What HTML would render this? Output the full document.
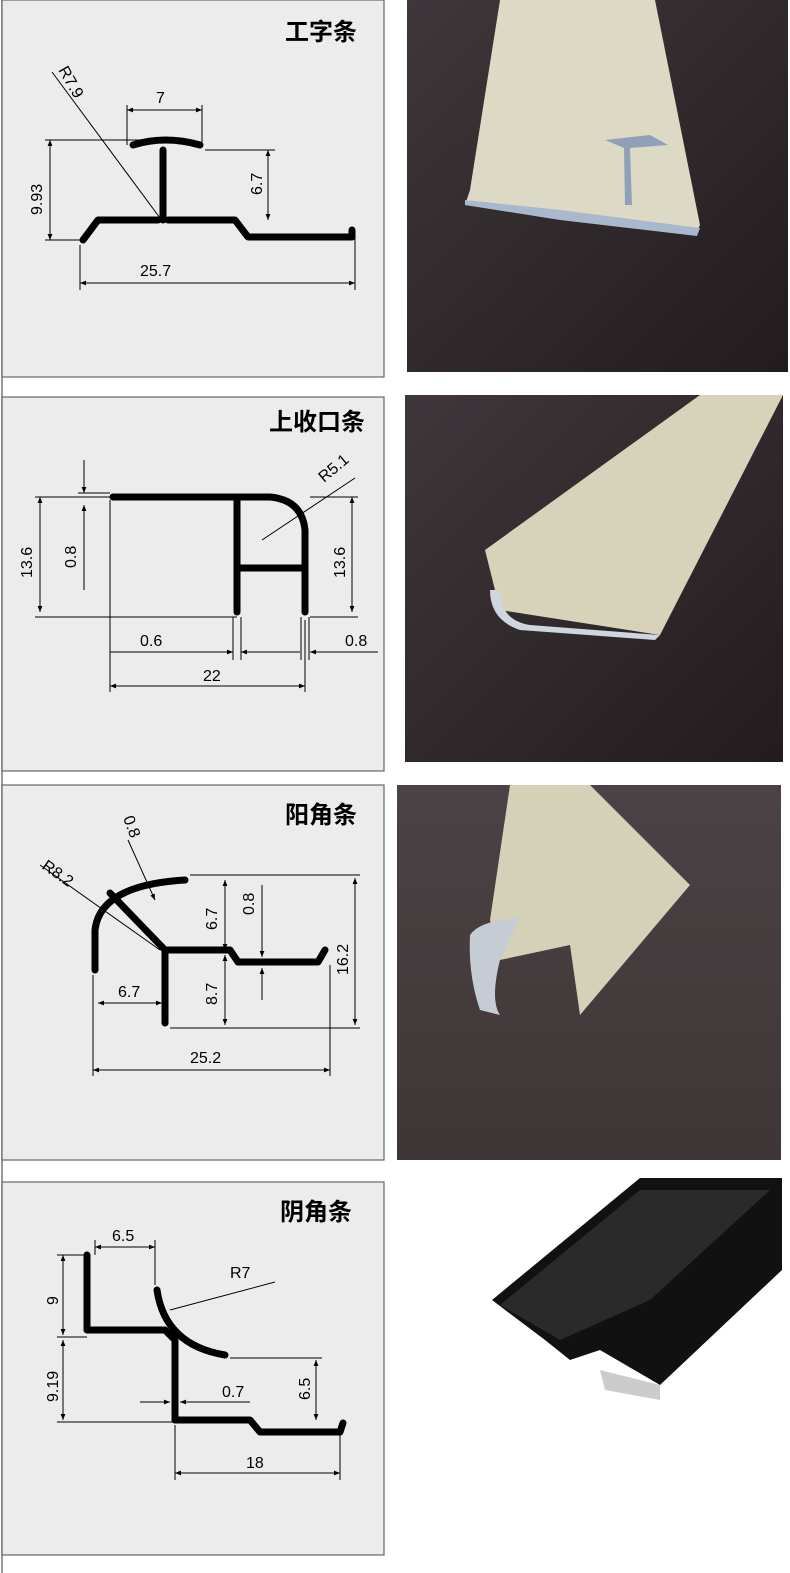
<!DOCTYPE html>
<html><head><meta charset="utf-8"><style>
html,body{margin:0;padding:0;background:#fff;}
svg{display:block}
text{font-family:"Liberation Sans","Noto Sans CJK SC",sans-serif;}
</style></head><body>
<svg width="790" height="1573" viewBox="0 0 790 1573" xmlns="http://www.w3.org/2000/svg">
<defs>
<linearGradient id="g1" x1="0" y1="0" x2="1" y2="1"><stop offset="0" stop-color="#3e373b"/><stop offset="0.6" stop-color="#2e2729"/><stop offset="1" stop-color="#221c1e"/></linearGradient>
<linearGradient id="g3" x1="0" y1="0" x2="0" y2="1"><stop offset="0" stop-color="#4a4244"/><stop offset="1" stop-color="#3e3636"/></linearGradient>
<marker id="a" viewBox="0 0 10 10" refX="10" refY="5" markerWidth="6" markerHeight="6" orient="auto-start-reverse"><path d="M0,1 L10,5 L0,9z" fill="#000"/></marker>
</defs>
<line x1="2" y1="0" x2="2" y2="1573" stroke="#777" stroke-width="1.5"/>
<g fill="#ececec" stroke="#666" stroke-width="1.2">
<rect x="2" y="0" width="382" height="377"/>
<rect x="2" y="397" width="382" height="374"/>
<rect x="2" y="785" width="382" height="375"/>
<rect x="2" y="1182" width="382" height="373"/>
</g>
<rect x="407" y="0" width="381" height="372" fill="url(#g1)"/>
<path d="M470 190 L500 0 L655 0 L700 225 L695 235 L465 205 Z" fill="#dcdac4"/>
<path d="M465 200 L560 210 L700 228 L697 236 L560 220 L465 205Z" fill="#a9b8cc"/>
<path d="M605 140 L650 135 L668 145 L630 148 L632 205 L625 205 L624 148 Z" fill="#8fa0b8"/>
<rect x="405" y="395" width="378" height="367" fill="url(#g1)"/>
<path d="M485 550 L700 395 L783 395 L660 635 L500 610Z" fill="#d6d3ba"/>
<path d="M500 590 Q500 620 530 625 L660 635 L655 640 L520 630 Q490 620 490 590Z" fill="#cfd6e0"/>
<rect x="397" y="785" width="384" height="375" fill="url(#g3)"/>
<path d="M490 920 L510 785 L590 785 L690 885 L580 1015 L570 945 L500 960Z" fill="#d4d1b8"/>
<path d="M470 935 Q480 920 520 918 L500 960 Q490 1000 500 1015 L480 1010 Q468 975 470 935Z" fill="#c6ccd3"/>
<path d="M492 1300 L640 1178 L782 1178 L782 1270 L660 1385 L600 1350 L570 1360 L545 1340 Z" fill="#111"/>
<path d="M500 1305 L640 1190 L770 1190 L650 1300 L560 1340Z" fill="#2a2a2a"/>
<path d="M600 1370 L660 1385 L660 1400 L605 1390Z" fill="#ccc"/>
<g font-weight="bold" font-size="24" fill="#000" text-anchor="end">
<text x="357" y="40">工字条</text>
<text x="365" y="430">上收口条</text>
<text x="357" y="823">阳角条</text>
<text x="352" y="1220">阴角条</text>
</g>
<g stroke="#000" stroke-width="7" fill="none" stroke-linecap="round" stroke-linejoin="round">
<path d="M83 240 L98 220 L158 220"/><path d="M168 220 L235 220 L248 237 L352 237 L352 230"/>
<path d="M163 150 L163 220"/><path d="M133 145 Q165 135 200 145"/>
<path d="M113 497 L270 497 Q302 500 305 530 L305 612"/><path d="M237 497 L237 612"/><path d="M237 568 L303 568"/>
<path d="M95 970 L95 930 Q100 885 185 880"/><path d="M165 950 L165 1023"/><path d="M110 893 L165 950 L230 950 L238 962 L318 962 L325 950"/>
<path d="M87 1255 L87 1330 L165 1330 L175 1340 L175 1420 L250 1420 L260 1432 L340 1432 L343 1423"/>
<path d="M175 1345 L175 1420"/><path d="M157 1290 Q165 1345 225 1355"/>
</g>
<g stroke="#000" stroke-width="1" fill="none">
<line x1="80" y1="283" x2="355" y2="283" marker-start="url(#a)" marker-end="url(#a)"/><line x1="80" y1="245" x2="80" y2="290"/><line x1="355" y1="235" x2="355" y2="290"/>
<line x1="127" y1="110" x2="202" y2="110" marker-start="url(#a)" marker-end="url(#a)"/><line x1="127" y1="105" x2="127" y2="145"/><line x1="202" y1="105" x2="202" y2="145"/>
<line x1="50" y1="140" x2="50" y2="240" marker-start="url(#a)" marker-end="url(#a)"/><line x1="45" y1="140" x2="160" y2="140"/><line x1="45" y1="240" x2="85" y2="240"/>
<line x1="268" y1="150" x2="268" y2="220" marker-start="url(#a)" marker-end="url(#a)"/><line x1="205" y1="150" x2="275" y2="150"/>
<line x1="52" y1="72" x2="160" y2="218"/>
<line x1="110" y1="686" x2="305" y2="686" marker-start="url(#a)" marker-end="url(#a)"/><line x1="110" y1="500" x2="110" y2="692"/><line x1="305" y1="620" x2="305" y2="692"/>
<line x1="40" y1="497" x2="40" y2="612" marker-start="url(#a)" marker-end="url(#a)"/><line x1="35" y1="497" x2="110" y2="497"/><line x1="35" y1="617" x2="237" y2="617"/>
<line x1="352" y1="497" x2="352" y2="612" marker-start="url(#a)" marker-end="url(#a)"/><line x1="310" y1="497" x2="358" y2="497"/><line x1="310" y1="617" x2="358" y2="617"/>
<line x1="84" y1="460" x2="84" y2="493" marker-end="url(#a)"/><line x1="84" y1="505" x2="84" y2="590" marker-start="url(#a)"/><line x1="78" y1="493" x2="110" y2="493"/>
<line x1="110" y1="652" x2="233" y2="652" marker-end="url(#a)"/><line x1="241" y1="652" x2="300" y2="652" marker-start="url(#a)"/><line x1="310" y1="652" x2="378" y2="652" marker-start="url(#a)"/>
<line x1="233" y1="617" x2="233" y2="660"/><line x1="241" y1="617" x2="241" y2="660"/><line x1="301" y1="617" x2="301" y2="660"/><line x1="309" y1="617" x2="309" y2="660"/>
<line x1="262" y1="540" x2="355" y2="478"/>
<line x1="93" y1="1070" x2="330" y2="1070" marker-start="url(#a)" marker-end="url(#a)"/><line x1="93" y1="975" x2="93" y2="1076"/><line x1="330" y1="965" x2="330" y2="1076"/>
<line x1="98" y1="1003" x2="162" y2="1003" marker-start="url(#a)" marker-end="url(#a)"/>
<line x1="355" y1="878" x2="355" y2="1025" marker-start="url(#a)" marker-end="url(#a)"/><line x1="190" y1="875" x2="360" y2="875"/><line x1="170" y1="1028" x2="360" y2="1028"/>
<line x1="225" y1="880" x2="225" y2="950" marker-start="url(#a)" marker-end="url(#a)"/><line x1="225" y1="955" x2="225" y2="1025" marker-start="url(#a)" marker-end="url(#a)"/>
<line x1="262" y1="885" x2="262" y2="957" marker-end="url(#a)"/><line x1="262" y1="968" x2="262" y2="1000" marker-start="url(#a)"/>
<line x1="40" y1="865" x2="160" y2="950"/><line x1="128" y1="840" x2="155" y2="900" marker-end="url(#a)"/>
<line x1="175" y1="1473" x2="340" y2="1473" marker-start="url(#a)" marker-end="url(#a)"/><line x1="175" y1="1425" x2="175" y2="1480"/><line x1="340" y1="1430" x2="340" y2="1480"/>
<line x1="95" y1="1247" x2="155" y2="1247" marker-start="url(#a)" marker-end="url(#a)"/><line x1="95" y1="1240" x2="95" y2="1255"/><line x1="155" y1="1240" x2="155" y2="1285"/>
<line x1="63" y1="1255" x2="63" y2="1335" marker-start="url(#a)" marker-end="url(#a)"/><line x1="63" y1="1340" x2="63" y2="1420" marker-start="url(#a)" marker-end="url(#a)"/>
<line x1="57" y1="1255" x2="87" y2="1255"/><line x1="57" y1="1337" x2="87" y2="1337"/><line x1="57" y1="1422" x2="175" y2="1422"/>
<line x1="316" y1="1360" x2="316" y2="1420" marker-start="url(#a)" marker-end="url(#a)"/><line x1="230" y1="1358" x2="322" y2="1358"/>
<line x1="140" y1="1402" x2="170" y2="1402" marker-end="url(#a)"/><line x1="180" y1="1402" x2="250" y2="1402" marker-start="url(#a)"/>
<line x1="170" y1="1310" x2="275" y2="1282"/>
</g>
<g font-size="16" fill="#000">
<text x="140" y="276">25.7</text><text x="156" y="103">7</text>
<text transform="translate(42,215) rotate(-90)">9.93</text><text transform="translate(262,195) rotate(-90)">6.7</text>
<text transform="translate(58,70) rotate(60)">R7.9</text>
<text x="203" y="681">22</text><text x="140" y="646">0.6</text><text x="345" y="646">0.8</text>
<text transform="translate(32,578) rotate(-90)">13.6</text><text transform="translate(76,568) rotate(-90)">0.8</text><text transform="translate(345,578) rotate(-90)">13.6</text>
<text transform="translate(324,483) rotate(-40)">R5.1</text>
<text x="190" y="1063">25.2</text><text x="118" y="997">6.7</text><text x="41" y="868" transform="rotate(35 41 868)">R8.2</text>
<text transform="translate(123,818) rotate(70)">0.8</text>
<text transform="translate(217,930) rotate(-90)">6.7</text><text transform="translate(217,1005) rotate(-90)">8.7</text><text transform="translate(254,915) rotate(-90)">0.8</text><text transform="translate(348,975) rotate(-90)">16.2</text>
<text x="246" y="1468">18</text><text x="112" y="1241">6.5</text><text x="230" y="1278">R7</text><text x="222" y="1397">0.7</text>
<text transform="translate(58,1305) rotate(-90)">9</text><text transform="translate(58,1402) rotate(-90)">9.19</text><text transform="translate(310,1400) rotate(-90)">6.5</text>
</g>
</svg>
</body></html>
